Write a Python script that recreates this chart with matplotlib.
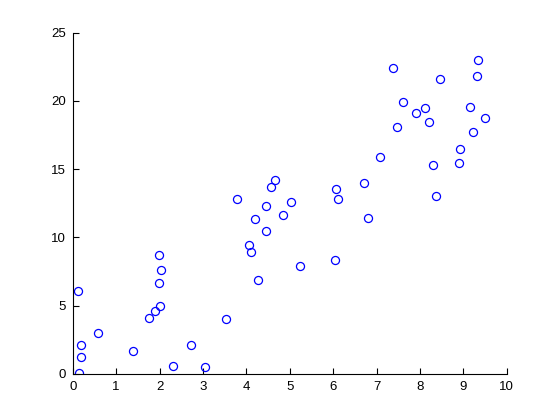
import matplotlib
matplotlib.use("Agg")
import matplotlib.pyplot as plt

x = [0.11, 0.18, 0.18, 0.15, 0.58, 1.39, 1.76, 1.90, 2.01, 1.98, 2.04, 1.98,
     2.31, 2.73, 3.04, 3.53, 4.06, 4.11, 4.27,
     4.66, 4.56, 3.79, 4.45, 5.03, 4.19, 4.85, 4.45, 5.24, 6.04, 6.06, 6.12,
     7.38, 9.34, 9.32, 8.46, 7.61, 8.12, 7.91, 9.15, 9.50, 8.21, 7.47, 9.22,
     8.92, 7.08, 8.29, 8.90, 6.71, 8.36, 6.80]
y = [6.10, 2.10, 1.23, 0.05, 3.00, 1.67, 4.10, 4.60, 4.97, 6.67, 7.62, 8.72,
     0.56, 2.10, 0.49, 4.00, 9.46, 8.92, 6.84,
     14.24, 13.70, 12.84, 12.33, 12.62, 11.37, 11.62, 10.44, 7.92, 8.31, 13.53, 12.79,
     22.40, 22.99, 21.84, 21.60, 19.93, 19.46, 19.12, 19.56, 18.72, 18.46, 18.06, 17.72,
     16.47, 15.88, 15.27, 15.42, 14.02, 13.01, 11.45]

xticks = list(range(0, 11))
yticks = [0, 5, 10, 15, 20, 25]

plt.rcParams['font.family'] = ['Liberation Sans', 'DejaVu Sans']
fig = plt.figure(figsize=(5.6, 4.2), dpi=100)
ax = fig.add_axes([0.13, 0.11, 0.775, 0.812])
ax.plot(x, y, 'o', markerfacecolor='none', markeredgecolor='#0000ff',
        markersize=5.8, markeredgewidth=0.9)
ax.set_xlim(0, 10)
ax.set_ylim(0, 25)
ax.set_xticks(xticks)
ax.set_yticks(yticks)
ax.spines['top'].set_visible(False)
ax.spines['right'].set_visible(False)
for s in ('left', 'bottom'):
    ax.spines[s].set_linewidth(0.8)
ax.tick_params(direction='in', length=4, width=0.8, labelsize=9.5, pad=5)
fig.savefig('out.png', dpi=100)
